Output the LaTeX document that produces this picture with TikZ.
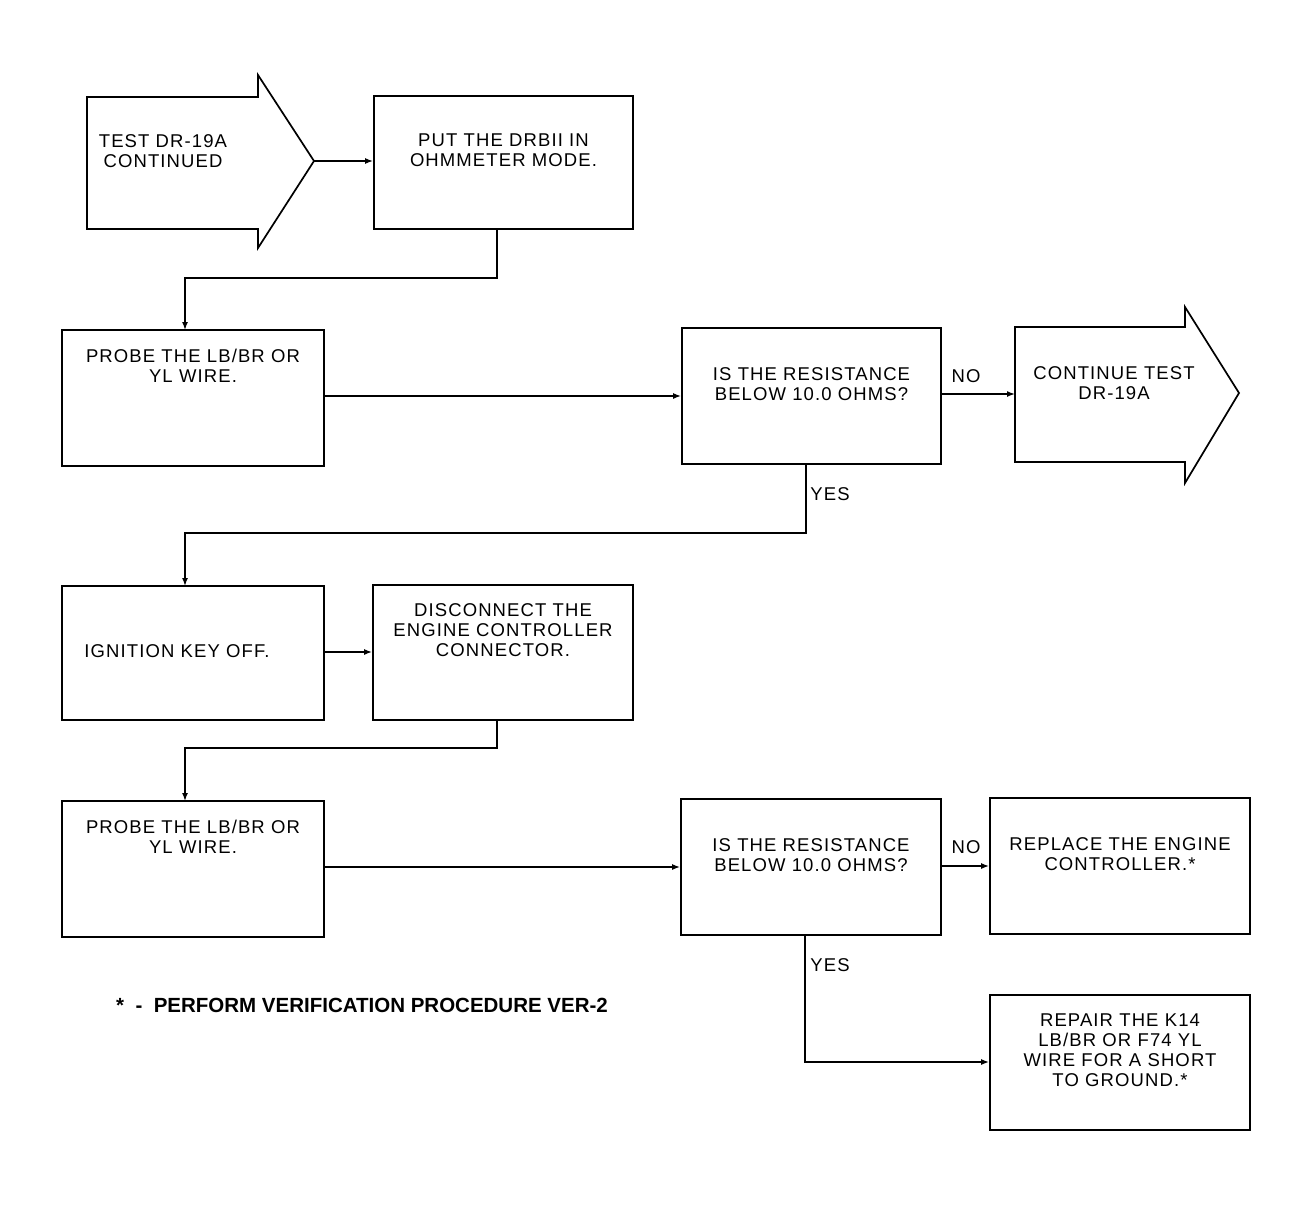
\documentclass[tikz,border=0pt]{standalone}
\usepackage{fontspec}
\setmainfont{Liberation Sans}
\newfontfamily\boxfont[LetterSpace=6]{Liberation Sans}
\usetikzlibrary{arrows.meta}
\begin{document}
\begin{tikzpicture}[x=1pt,y=-1pt,
  box/.style={draw,line width=1.7pt,rectangle,inner sep=0pt},
  txt/.style={align=center,font=\boxfont\fontsize{18.5}{20}\selectfont,anchor=north,inner sep=0pt},
  lbl/.style={font=\boxfont\fontsize{18.5}{20}\selectfont,inner sep=0pt},
  conn/.style={line width=1.5pt,-{Latex[length=8pt,width=6pt]}},
  shp/.style={line width=1.7pt,line join=miter}]
\useasboundingbox (0,0) rectangle (1289,1207);
% start arrow
\draw[shp] (87,97) -- (258,97) -- (258,75) -- (314,161) coordinate (starttip) -- (258,248) -- (258,229) -- (87,229) -- cycle;
\node[txt] (starttxt) at (163,134) {TEST DR-19A\\CONTINUED};
% put box
\node[box,minimum width=259pt,minimum height=133pt] (put) at (503.5,162.5) {};
\node[txt] (puttxt) at (503.5,134) {PUT THE DRBII IN\\OHMMETER MODE.};
\draw[conn] (starttip) -- (put.west |- starttip);
% probe 1
\node[box,minimum width=262pt,minimum height=136pt] (probe1) at (193,398) {};
\node[txt] (probe1txt) at (193,349) {PROBE THE LB/BR OR\\YL WIRE.};
\draw[conn] (put.south -| 497,0) |- (185,278) -- (185,330);
% Q1
\node[box,minimum width=259pt,minimum height=136pt] (q1) at (811.5,396) {};
\node[txt] (q1txt) at (811.5,367) {IS THE RESISTANCE\\BELOW 10.0 OHMS?};
\draw[conn] (324,396) -- (q1.west |- 0,396);
% continue arrow
\draw[shp] (1015,327) -- (1185,327) -- (1185,307) -- (1239,393) coordinate (conttip) -- (1185,483) -- (1185,462) -- (1015,462) -- cycle;
\coordinate (contin) at (1015,394);
\node[txt] (conttxt) at (1114,366) {CONTINUE TEST\\DR-19A};
\draw[conn] (q1.east |- contin) -- (contin);
\node[lbl] (no1) at (966,376) {NO};
% ignition
\node[box,minimum width=262pt,minimum height=134pt] (ign) at (193,653) {};
\node[txt] (igntxt) at (177,644) {IGNITION KEY OFF.};
\draw[conn] (806,464) |- (185,533) -- (185,586);
\node[lbl] (yes1) at (830,494) {YES};
% disconnect
\node[box,minimum width=260pt,minimum height=135pt] (disc) at (503,652.5) {};
\node[txt] (disctxt) at (503,603) {DISCONNECT THE\\ENGINE CONTROLLER\\CONNECTOR.};
\draw[conn] (324,652) -- (disc.west |- 0,652);
% probe 2
\node[box,minimum width=262pt,minimum height=136pt] (probe2) at (193,869) {};
\node[txt] (probe2txt) at (193,820) {PROBE THE LB/BR OR\\YL WIRE.};
\draw[conn] (497,720) |- (185,748) -- (185,801);
% Q2
\node[box,minimum width=260pt,minimum height=136pt] (q2) at (811,867) {};
\node[txt] (q2txt) at (811,838) {IS THE RESISTANCE\\BELOW 10.0 OHMS?};
\draw[conn] (324,867) -- (q2.west |- 0,867);
% replace
\node[box,minimum width=260pt,minimum height=136pt] (repl) at (1120,866) {};
\node[txt] (repltxt) at (1120,837) {REPLACE THE ENGINE\\CONTROLLER.*};
\draw[conn] (941,866) -- (repl.west |- 0,866);
\node[lbl] (no2) at (966,847) {NO};
% repair
\node[box,minimum width=260pt,minimum height=135pt] (rep) at (1120,1062.5) {};
\node[txt] (reptxt) at (1120,1014) {REPAIR THE K14\\LB/BR OR F74 YL\\WIRE FOR A SHORT\\TO GROUND.*};
\draw[conn] (805,935) |- (rep.west |- 0,1062);
\node[lbl] (yes2) at (830,965) {YES};
% footnote
\node[inner sep=0pt,anchor=west,font=\bfseries\fontsize{20.5}{22}\selectfont] (foot) at (116,1005) {*\ \ -\ \ PERFORM VERIFICATION PROCEDURE VER-2};
\end{tikzpicture}
\end{document}
